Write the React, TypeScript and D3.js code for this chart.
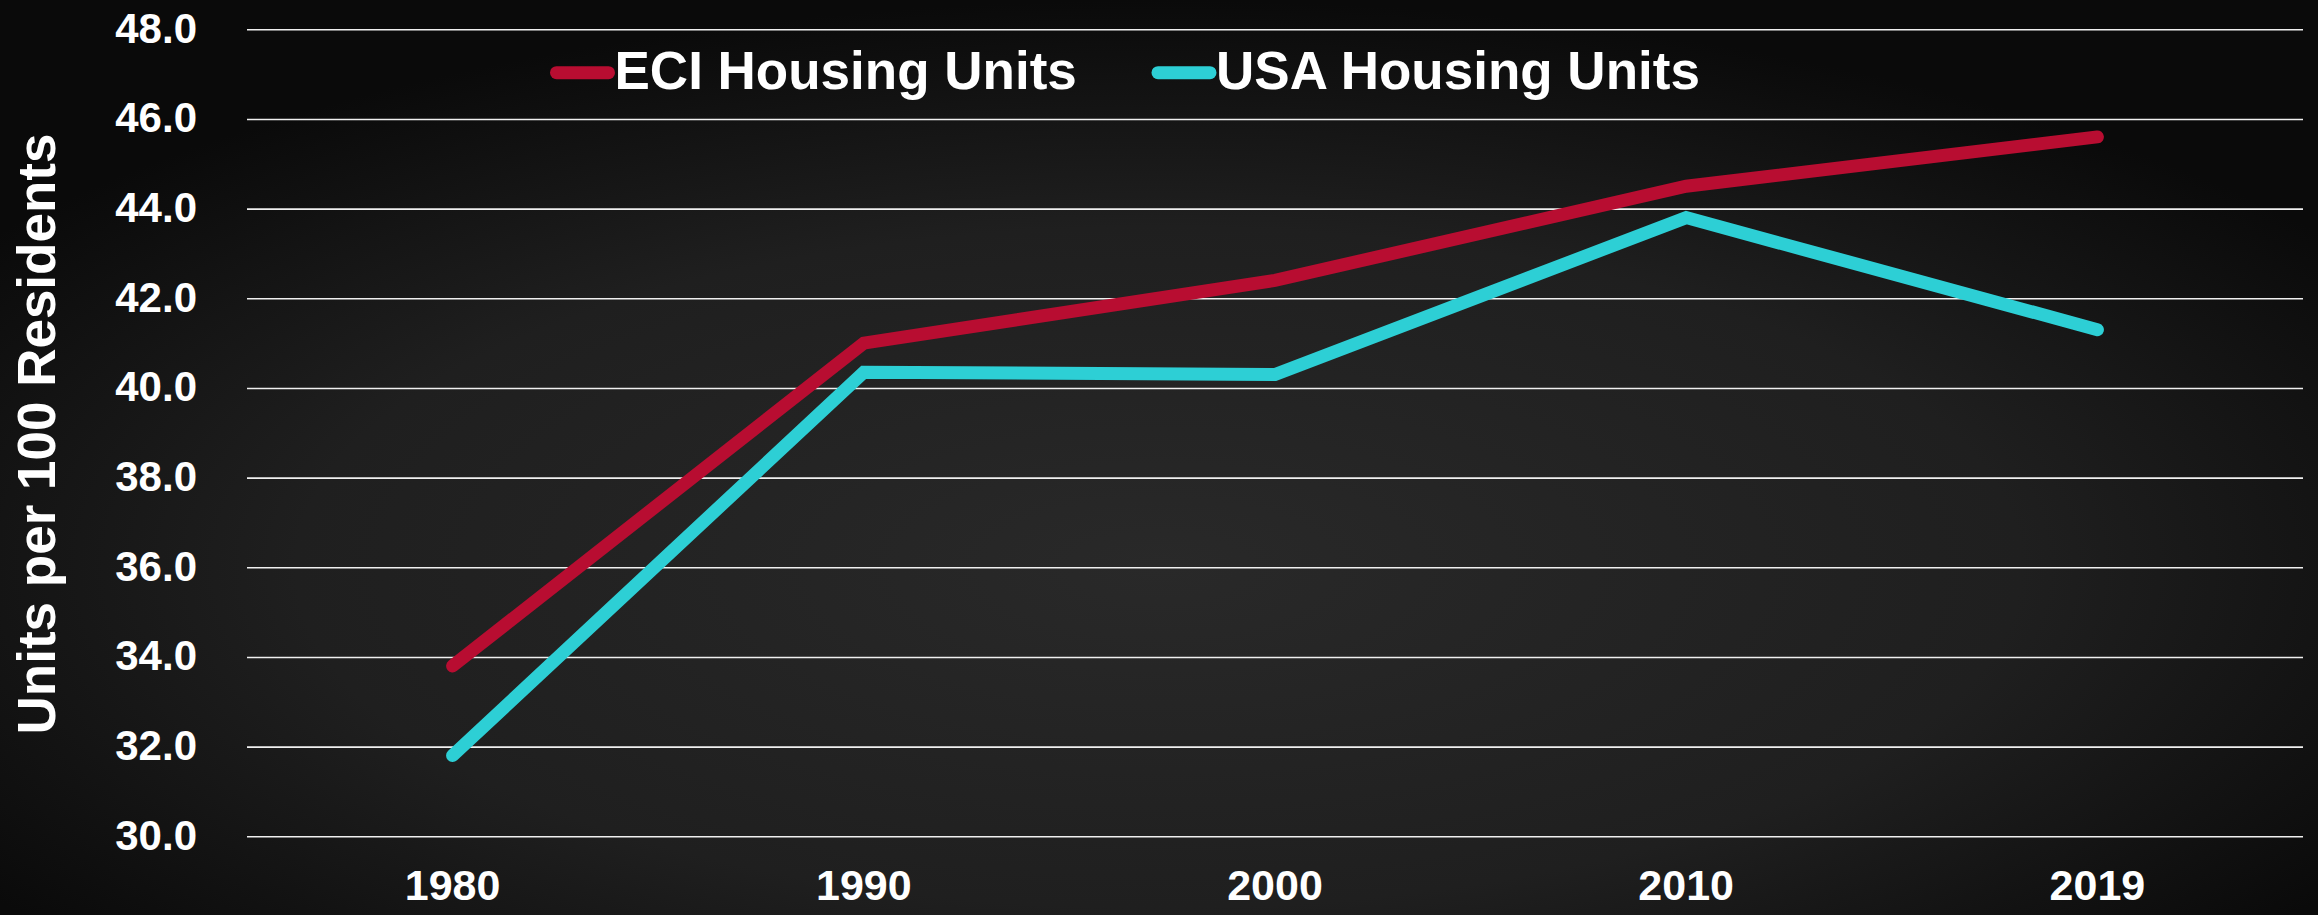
import React, { useEffect, useRef } from 'react';
import * as d3 from 'd3';

// values
const years = ['1980', '1990', '2000', '2010', '2019'];
const eciUnits = [33.8, 41.0, 42.4, 44.5, 45.6];
const usaUnits = [31.8, 40.35, 40.3, 43.8, 41.3];
const yTicks = [30, 32, 34, 36, 38, 40, 42, 44, 46, 48];
const seriesNames = ['ECI Housing Units', 'USA Housing Units'];
const seriesColors = ['#b80d31', '#2dcfd5'];
const yTitle = 'Units per 100 Residents';

const W = 2318;
const H = 915;
const FONT = '"Liberation Sans", Arial, sans-serif';

const App = () => {
  const svgRef = useRef<SVGSVGElement>(null);

  useEffect(() => {
    const margin = { top: 29.3, right: 15, bottom: 78.7, left: 247 };
    const width = W - margin.left - margin.right;
    const height = H - margin.top - margin.bottom;

    const svg = d3.select(svgRef.current);
    svg.selectAll('*').remove();
    svg.attr('width', W).attr('height', H);

    // dark slide background
    const grad = svg.append('defs')
      .append('radialGradient')
      .attr('id', 'bg')
      .attr('cx', 0.5)
      .attr('cy', 0.62)
      .attr('r', 0.62);
    grad.append('stop').attr('offset', '0%').attr('stop-color', '#292929');
    grad.append('stop').attr('offset', '60%').attr('stop-color', '#1f1f1f');
    grad.append('stop').attr('offset', '100%').attr('stop-color', '#0a0a0a');
    svg.append('rect').attr('width', W).attr('height', H).attr('fill', 'url(#bg)');

    const g = svg.append('g')
      .attr('transform', `translate(${margin.left}, ${margin.top})`);

    const xScale = d3.scaleBand()
      .domain(years)
      .range([0, width]);

    const yScale = d3.scaleLinear()
      .domain([30, 48])
      .range([height, 0]);

    // gridlines + y tick labels
    const yAxis = g.append('g')
      .call(d3.axisLeft(yScale)
        .tickValues(yTicks)
        .tickSize(-width)
        .tickPadding(50)
        .tickFormat(d3.format('.1f')));
    yAxis.select('.domain').remove();
    yAxis.selectAll('.tick line')
      .attr('stroke', '#f0f0f0')
      .attr('stroke-width', 1.6);
    yAxis.selectAll('.tick text')
      .attr('fill', '#fff')
      .attr('dy', 13)
      .style('font-family', FONT)
      .style('font-weight', 'bold')
      .style('font-size', '42px');

    // x labels
    const xAxis = g.append('g')
      .attr('transform', `translate(0, ${height})`)
      .call(d3.axisBottom(xScale).tickSize(0));
    xAxis.select('.domain').remove();
    xAxis.selectAll('.tick text')
      .attr('fill', '#fff')
      .attr('y', 0)
      .attr('dy', 64)
      .style('font-family', FONT)
      .style('font-weight', 'bold')
      .style('font-size', '43px');

    // y title
    svg.append('text')
      .attr('transform', 'rotate(-90)')
      .attr('x', -434)
      .attr('y', 55)
      .attr('fill', '#fff')
      .style('text-anchor', 'middle')
      .style('font-family', FONT)
      .style('font-weight', 'bold')
      .style('font-size', '53px')
      .text(yTitle);

    const line = d3.line<number>()
      .x((d, i) => (xScale(years[i]) ?? 0) + xScale.bandwidth() / 2)
      .y(d => yScale(d));

    [eciUnits, usaUnits].forEach((vals, i) => {
      g.append('path')
        .datum(vals)
        .attr('d', line)
        .attr('fill', 'none')
        .attr('stroke', seriesColors[i])
        .attr('stroke-width', 13)
        .attr('stroke-linecap', 'round')
        .attr('stroke-linejoin', 'miter');
    });

    // legend
    const legendX = [556.5, 1158];
    const legend = svg.append('g');
    seriesNames.forEach((name, i) => {
      legend.append('line')
        .attr('x1', legendX[i])
        .attr('x2', legendX[i] + 52)
        .attr('y1', 72.7)
        .attr('y2', 72.7)
        .attr('stroke', seriesColors[i])
        .attr('stroke-width', 13)
        .attr('stroke-linecap', 'round');
      legend.append('text')
        .attr('x', legendX[i] + 58)
        .attr('y', 89.3)
        .attr('fill', '#fff')
        .style('font-family', FONT)
        .style('font-weight', 'bold')
        .style('font-size', '53px')
        .text(name);
    });
  }, []);

  return (
    <div style={{ position: 'absolute', left: 0, top: 0 }}>
      <svg ref={svgRef} style={{ display: 'block' }}></svg>
    </div>
  );
};

export default App;
